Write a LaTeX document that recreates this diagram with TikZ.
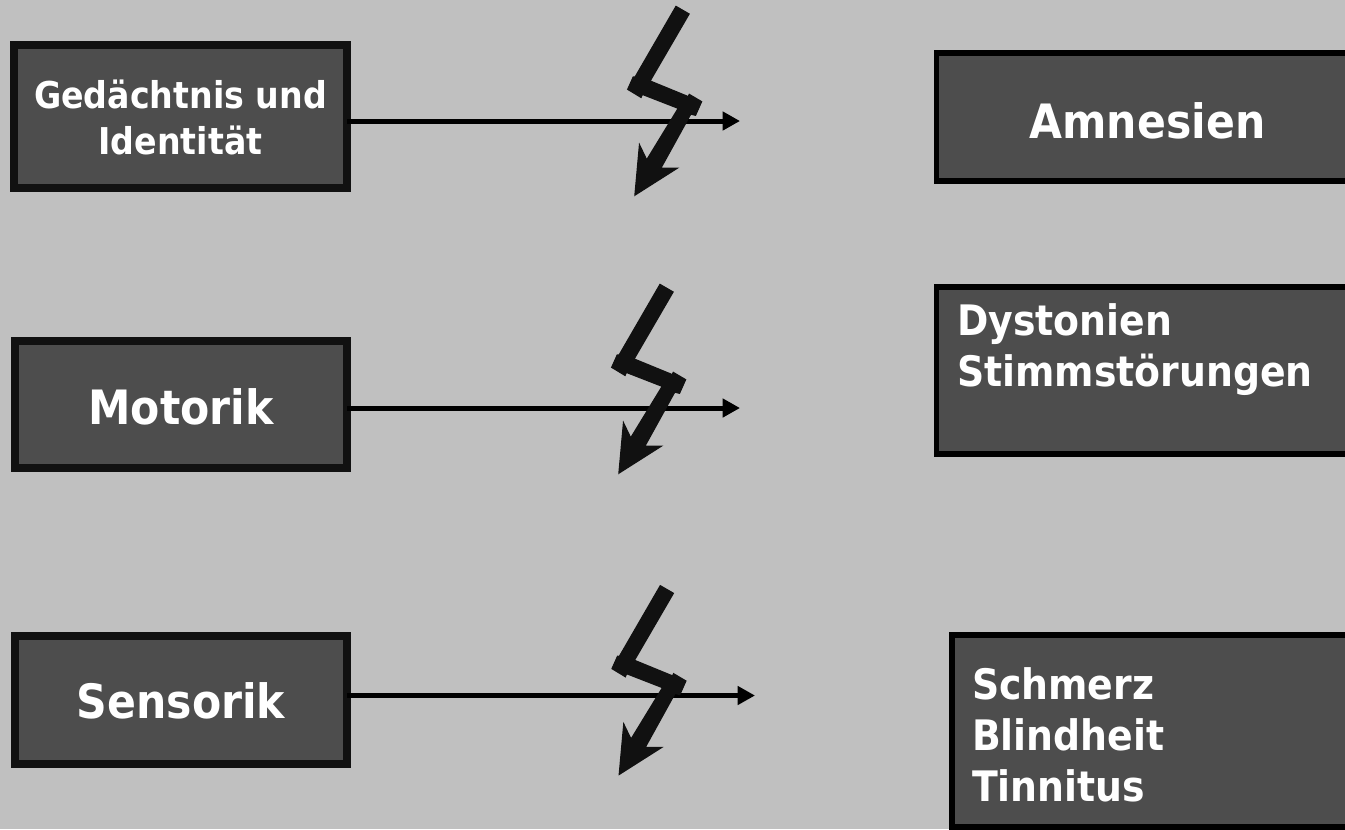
\documentclass[tikz,border=0pt]{standalone}
\usepackage{fontspec}
\setmainfont{DejaVu Sans}[FakeStretch=0.9]
\usetikzlibrary{arrows.meta}
\tikzset{
  x=0.75pt,y=-0.75pt,
  boxbase/.style={rectangle,inner sep=0pt,outer sep=0pt,fill=boxfill,anchor=north west},
  leftbox/.style={boxbase,draw=boxline,line width=6pt},
  rightbox/.style={boxbase,draw=black,line width=4pt},
  lab/.style={text=white,font=\bfseries\fontsize{#1}{#1}\selectfont,inner sep=0pt,outer sep=0pt},
  link/.style={black,line width=3.75pt,-{Triangle[length=13pt,width=13.5pt]}},
  bolt/.style={fill=boxline,draw=boxline,line width=1pt,line join=miter}
}
\definecolor{boxline}{HTML}{111111}
\definecolor{boxfill}{HTML}{4D4D4D}
\definecolor{bg}{HTML}{C0C0C0}
\newcommand{\boxat}[6]{\node[#1,minimum width={(#5-#3)*0.75pt},minimum height={(#6-#4)*0.75pt}] (#2) at (#3,#4) {};}
\newcommand{\boltshape}[2]{%
  \path[bolt,shift={(#1,#2)}] (676,6.5)--(689,14)--(650,81)--(688.3,96.7)--(689.3,94.5)--(701.5,101.7)--(695.5,115.2)--(690.7,114)--(660.7,168.3)--(677,168.3)--(635,195)--(639.5,145)--(646.7,160)--(678.3,108.3)--(642.3,94.3)--(641,97.3)--(627.8,89.3)--(633.3,77)--(635,77.3)--cycle;}
\begin{document}
\begin{tikzpicture}
\useasboundingbox (0,0) rectangle (1345,829);
\clip (0,0) rectangle (1345,829);
\fill[bg] (0,0) rectangle (1345,829);
% left boxes
\boxat{leftbox}{b1}{14}{45}{347}{188}
\boxat{leftbox}{b2}{15}{341}{347}{468}
\boxat{leftbox}{b3}{15}{636}{347}{764}
% right boxes
\boxat{rightbox}{c1}{936.5}{53}{1360}{181}
\boxat{rightbox}{c2}{936.5}{287}{1360}{454}
\boxat{rightbox}{c3}{952}{635}{1360}{827}
% arrow ends
\coordinate (e1) at (740,121);
\coordinate (e2) at (740,408);
\coordinate (e3) at (755,695.5);
\draw[link] (b1.east |- e1) -- (e1);
\draw[link] (b2.east |- e2) -- (e2);
\draw[link] (b3.east |- e3) -- (e3);
% bolts
\boltshape{0}{0}
\boltshape{-16}{278}
\boltshape{-15.7}{579.3}
% texts
\node[lab=27.7,align=center] (t1) at (180.5,117) {Gedächtnis und\\[6.8pt]Identität};
\node[lab=35.5] (t2) at (181,407) {Motorik};
\node[lab=35.5] (t3) at (181,701) {Sensorik};
\node[lab=35.5] (r1) at (1147.5,121) {Amnesien};
\node[lab=31.5,anchor=west,align=left] (r2) at (957,349.5) {Dystonien\\[6.75pt]Stimmstörungen};
\node[lab=31.5,anchor=west,align=left] (r3) at (972,735) {Schmerz\\[6.75pt]Blindheit\\[6.75pt]Tinnitus};
\end{tikzpicture}
\end{document}
